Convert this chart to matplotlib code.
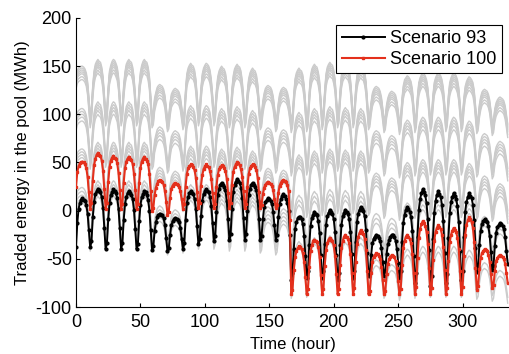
import numpy as np
import matplotlib
matplotlib.use("Agg")
import matplotlib.pyplot as plt

# ---- data (MWh per hour) ----
s93_week1 = [
    -38,-13,2,8,11,13,11,10,6,-3,-20,-38,
    -32,-7,9,17,20,23,21,19,14,3,-18,-40,
    -34,-9,8,16,19,22,20,18,13,2,-18,-40,
    -34,-10,7,14,18,20,18,16,12,1,-19,-40,
    -35,-11,6,14,17,20,19,16,11,0,-20,-41,
    -37,-21,-12,-7,-5,-3,-4,-5,-8,-15,-28,-42,
    -39,-25,-15,-11,-9,-8,-9,-10,-12,-18,-29,-40,
    -34,-10,8,14,18,20,18,17,12,2,-16,-35,
    -29,-6,10,17,20,22,20,19,14,5,-13,-32,
    -26,-1,16,23,27,29,27,25,21,10,-9,-30,
    -24,2,19,27,30,33,31,29,24,13,-8,-30,
    -24,0,16,23,27,29,27,25,21,10,-9,-30,
    -26,-9,4,9,11,13,12,10,7,-1,-15,-30,
    -25,-7,7,12,15,17,15,12,8,0,-25,-72]
s93_week2 = [
    -65,-40,-19,-12,-8,-7,-7,-9,-14,-26,-47,-70,
    -63,-36,-16,-8,-4,-1,-3,-5,-11,-23,-46,-70,
    -63,-35,-15,-6,-2,1,-1,-3,-9,-22,-46,-72,
    -65,-36,-15,-6,-2,1,-1,-3,-9,-22,-45,-70,
    -63,-33,-12,-3,1,4,2,0,-6,-20,-44,-68,
    -64,-46,-34,-29,-27,-25,-26,-28,-31,-39,-53,-68,
    -63,-45,-35,-30,-27,-25,-25,-27,-31,-40,-54,-70,
    -63,-33,-13,-4,1,4,2,-1,-7,-21,-47,-75,
    -65,-27,1,12,18,22,19,16,8,-9,-41,-78,
    -68,-29,-2,10,16,20,17,14,6,-11,-44,-75,
    -66,-28,-2,9,14,18,15,12,5,-12,-42,-72,
    -63,-27,-1,9,14,18,15,13,6,-10,-39,-64,
    -58,-36,-21,-14,-11,-9,-11,-12,-16,-26,-43,-62,
    -57,-37,-23,-17,-15,-13,-14,-16,-19,-27,-42,-55]

s100_week1 = [
    25,40,46,49,50,51,50,48,44,35,19,2,
    8,31,47,54,58,60,58,57,52,41,22,2,
    8,30,45,52,55,57,55,54,49,39,21,2,
    7,29,44,51,54,56,54,53,48,38,21,2,
    7,29,44,51,54,56,54,52,48,38,20,0,
    3,16,24,28,31,32,31,30,27,20,9,-4,
    -1,13,23,26,28,29,28,27,25,20,12,2,
    7,25,38,44,46,48,47,45,42,34,19,3,
    8,26,37,43,46,48,46,45,41,33,18,3,
    7,25,37,43,45,47,46,44,41,33,18,3,
    8,27,40,45,48,50,49,47,43,35,20,3,
    7,25,38,44,46,48,47,45,42,34,19,3,
    6,17,24,27,29,30,29,28,26,21,12,3,
    6,18,26,29,31,32,31,30,27,20,-10,-87]
s100_week2 = [
    -82,-62,-48,-42,-39,-37,-38,-40,-44,-53,-69,-87,
    -81,-58,-42,-36,-32,-30,-32,-33,-38,-48,-67,-87,
    -81,-57,-41,-34,-30,-28,-30,-32,-36,-47,-66,-87,
    -81,-56,-39,-31,-27,-25,-27,-29,-34,-45,-65,-87,
    -80,-53,-35,-27,-23,-20,-22,-24,-29,-41,-63,-87,
    -83,-65,-53,-48,-46,-44,-45,-47,-50,-58,-72,-87,
    -83,-66,-55,-50,-48,-46,-47,-48,-52,-59,-73,-87,
    -81,-56,-39,-31,-27,-25,-27,-29,-34,-45,-65,-87,
    -79,-49,-28,-19,-14,-11,-13,-16,-22,-35,-60,-87,
    -80,-51,-31,-22,-18,-15,-17,-19,-25,-38,-62,-87,
    -80,-52,-33,-25,-21,-18,-20,-22,-28,-40,-63,-87,
    -79,-47,-25,-15,-10,-7,-9,-12,-18,-33,-59,-82,
    -78,-61,-49,-44,-42,-40,-41,-42,-46,-53,-66,-80,
    -77,-63,-52,-49,-47,-46,-47,-48,-50,-55,-65,-75]

# upper envelope of the other scenarios (grey fan)
grey_top_week1 = [
    140,146,148,149,150,150,149,147,143,134,118,100,
    108,130,145,152,155,157,155,154,149,139,121,102,
    107,129,145,151,155,157,156,153,149,139,120,102,
    108,130,144,152,155,157,155,154,149,139,121,102,
    106,129,144,151,155,157,155,154,149,139,120,100,
    103,117,123,128,130,131,130,129,126,120,108,96,
    99,112,121,124,126,127,126,125,123,118,108,98,
    103,125,142,148,151,153,151,150,146,137,120,102,
    107,128,142,148,151,153,152,150,146,136,120,102,
    107,126,139,145,148,150,148,147,143,134,117,100,
    105,126,140,147,150,152,150,149,145,135,118,100,
    105,124,137,143,146,148,146,145,141,132,115,98,
    101,114,122,127,129,130,129,128,125,119,108,96,
    99,112,121,125,127,128,127,126,123,117,107,95]
grey_top_week2 = [
    100,121,137,143,146,148,146,145,141,131,114,96,
    101,123,140,147,150,152,150,149,144,135,117,98,
    104,125,142,149,152,154,152,151,146,137,119,100,
    105,126,141,148,151,153,151,150,146,136,119,100,
    105,126,140,147,150,152,150,149,144,135,117,98,
    101,113,122,126,128,129,128,127,124,118,107,95,
    98,110,117,121,123,124,123,122,120,114,104,93,
    98,117,130,136,138,140,139,137,134,126,111,95,
    100,119,133,138,141,143,142,140,136,128,112,96,
    101,120,133,138,141,143,142,140,136,128,112,96,
    101,120,133,138,141,143,142,140,136,128,112,96,
    100,117,129,134,137,139,138,136,133,125,110,94,
    97,110,118,123,125,126,125,124,121,115,104,92,
    95,106,112,115,117,118,117,116,114,109,100,90]
# offsets of each grey scenario below the upper envelope, per week
grey_offset_week1 = [0, -2, -4, -6, -8, -11, -14,
                     -44, -47, -50, -53, -57,
                     -86, -89, -92, -95, -99,
                     -126, -130, -134, -138, -142]
grey_offset_week2 = [0, -2, -4, -6, -8, -11, -14,
                     -46, -49, -52, -55, -59,
                     -90, -93, -96, -99, -103,
                     -132, -137, -142, -180, -186]

x_ticks = [0, 50, 100, 150, 200, 250, 300]
y_ticks = [-100, -50, 0, 50, 100, 150, 200]

# ---- build series ----
s93 = np.array(s93_week1 + s93_week2, dtype=float)
s100 = np.array(s100_week1 + s100_week2, dtype=float)
grey_top = np.array(grey_top_week1 + grey_top_week2, dtype=float)
hours = np.arange(len(s93))
split = len(s93_week1) - 1  # the drop happens at the last hour of week 1

plt.rcParams['font.family'] = ['Liberation Sans', 'DejaVu Sans']
plt.rcParams['axes.unicode_minus'] = False
fig = plt.figure(figsize=(5.10, 3.54), dpi=100)
ax = fig.add_axes([76/510, 1-307/354, 433/510, 289/354])

for o1, o2 in zip(grey_offset_week1, grey_offset_week2):
    off = np.where(hours < split, o1, o2)
    ax.plot(hours, grey_top + off, color='#cbcbcb', lw=1.0, zorder=1)

ax.plot(hours, s93, color='black', lw=1.4, marker='.', ms=4,
        label='Scenario 93', zorder=3)
ax.plot(hours, s100, color='#e4301c', lw=1.5, marker='s', ms=1.5,
        label='Scenario 100', zorder=4)

ax.set_xlim(0, 336)
ax.set_ylim(-100, 200)
ax.set_xticks(x_ticks)
ax.set_yticks(y_ticks)
ax.tick_params(direction='in', length=3, width=0.8, labelsize=13)
ax.tick_params(axis='x', pad=5)
ax.tick_params(axis='y', pad=3)
for s in ['top', 'right']:
    ax.spines[s].set_visible(False)
ax.set_xlabel('Time (hour)', fontsize=12, labelpad=4)
ax.set_ylabel('Traded energy in the pool (MWh)', fontsize=12, labelpad=4)

leg = ax.legend(loc='upper right', bbox_to_anchor=(0.984, 0.976), borderaxespad=0,
                fontsize=13, handlelength=2.4, handletextpad=0.3, fancybox=False,
                framealpha=1, edgecolor='black', borderpad=0.3, labelspacing=0.2)
leg.get_frame().set_linewidth(0.8)

fig.savefig('out.png', dpi=100)
